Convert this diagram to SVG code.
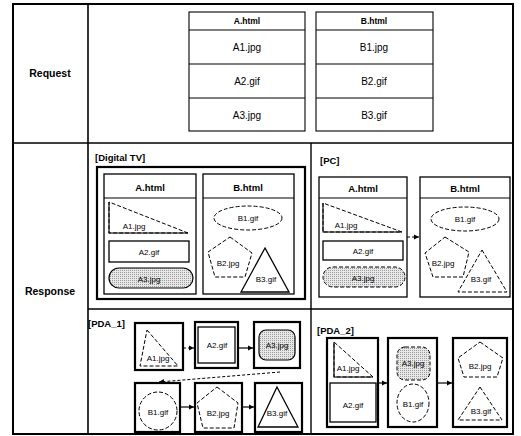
<svg xmlns="http://www.w3.org/2000/svg" width="521" height="436" viewBox="0 0 521 436">
<style>
text{font-family:"Liberation Sans",Arial,sans-serif;fill:#000;text-anchor:middle;dominant-baseline:central}
.t{font-size:10px}
.h{font-size:9.5px;font-weight:bold}
.s{font-size:8px}
.big{font-size:10.5px;font-weight:bold}
.lab{font-size:9.5px;font-weight:bold;text-anchor:start}
.frame{fill:none;stroke:#000;stroke-width:2}
.thin{fill:#fff;stroke:#000;stroke-width:1.1}
.box{fill:#fff;stroke:#000;stroke-width:1.3}
.thick{fill:#fff;stroke:#000;stroke-width:2.2}
.dash{fill:#fff;stroke:#000;stroke-width:1;stroke-dasharray:4 2}
.gray{fill:url(#dots);stroke:#000;stroke-width:1.2}
.grayd{fill:url(#dots);stroke:#000;stroke-width:1;stroke-dasharray:4 2}
.ar{fill:none;stroke:#000;stroke-width:1.2;marker-end:url(#ah)}
.ard{fill:none;stroke:#000;stroke-width:1;stroke-dasharray:3 2;marker-end:url(#ah)}
</style>
<defs>
<pattern id="dots" width="2" height="2" patternUnits="userSpaceOnUse">
<rect width="2" height="2" fill="#e8e8e8"/>
<rect width="1" height="1" fill="#9a9a9a"/>
</pattern>
<marker id="ah" markerWidth="6" markerHeight="6" refX="5" refY="3" orient="auto" markerUnits="userSpaceOnUse">
<path d="M0,0.5 L5,3 L0,5.5 Z" fill="#000"/>
</marker>
</defs>
<rect width="521" height="436" fill="#fff"/>

<g id="grid">
<rect x="13" y="4" width="500" height="430" class="frame"/>
<line x1="88" y1="4" x2="88" y2="434" stroke="#000" stroke-width="1.6"/>
<line x1="13" y1="143" x2="513" y2="143" stroke="#000" stroke-width="1.6"/>
<line x1="88" y1="309" x2="513" y2="309" stroke="#000" stroke-width="1.4"/>
<line x1="311" y1="143" x2="311" y2="434" stroke="#000" stroke-width="1.4"/>
<text x="50" y="73" class="big">Request</text>
<text x="50" y="291" class="big">Response</text>
</g>

<g id="req-a">
<rect x="189" y="12" width="116" height="119" class="thin"/>
<line x1="189" y1="30" x2="305" y2="30" stroke="#000" stroke-width="1.1"/>
<line x1="189" y1="64" x2="305" y2="64" stroke="#000" stroke-width="1.1"/>
<line x1="189" y1="98" x2="305" y2="98" stroke="#000" stroke-width="1.1"/>
<text x="247" y="21" class="h" style="font-size:8.5px">A.html</text>
<text x="247" y="47" class="t">A1.jpg</text>
<text x="247" y="81" class="t">A2.gif</text>
<text x="247" y="115" class="t">A3.jpg</text>
</g>
<g id="req-b">
<rect x="316" y="12" width="117" height="119" class="thin"/>
<line x1="316" y1="30" x2="433" y2="30" stroke="#000" stroke-width="1.1"/>
<line x1="316" y1="64" x2="433" y2="64" stroke="#000" stroke-width="1.1"/>
<line x1="316" y1="98" x2="433" y2="98" stroke="#000" stroke-width="1.1"/>
<text x="374" y="21" class="h" style="font-size:8.5px">B.html</text>
<text x="374" y="47" class="t">B1.jpg</text>
<text x="374" y="81" class="t">B2.gif</text>
<text x="374" y="115" class="t">B3.gif</text>
</g>

<g id="tv">
<text x="95" y="157" class="lab">[Digital TV]</text>
<rect x="97" y="167" width="208" height="132" fill="none" stroke="#000" stroke-width="2.2"/>
<g id="tv-a">
<rect x="104" y="174" width="92" height="120" class="box"/>
<line x1="104" y1="198" x2="196" y2="198" stroke="#000" stroke-width="1.1"/>
<text x="150" y="187" class="h">A.html</text>
<path d="M188,233 L109,202 L109,233 Z" class="dash"/>
<path d="M109,202 L109,233 L188,233" fill="none" stroke="#000" stroke-width="1.1"/>
<text x="134" y="226" class="s">A1.jpg</text>
<rect x="109" y="241" width="80" height="21" class="box"/>
<text x="149" y="252" class="s">A2.gif</text>
<rect x="109" y="268" width="84" height="20" rx="10" class="gray"/>
<text x="149" y="279" class="s">A3.jpg</text>
</g>
<g id="tv-b">
<rect x="203" y="174" width="91" height="120" class="box"/>
<line x1="203" y1="198" x2="294" y2="198" stroke="#000" stroke-width="1.1"/>
<text x="248" y="187" class="h">B.html</text>
<ellipse cx="248" cy="218" rx="34" ry="12" class="dash"/>
<text x="248" y="218" class="s">B1.gif</text>
<path d="M230,237 L252,253 L245,277 L215,277 L208,252 Z" class="dash"/>
<text x="228" y="263" class="s">B2.jpg</text>
<path d="M265,248 L289,292 L241,292 Z" class="box"/>
<text x="266" y="279" class="s">B3.gif</text>
</g>
</g>

<g id="pc">
<text x="320" y="160" class="lab">[PC]</text>
<g id="pc-a">
<rect x="319" y="177" width="88" height="120" class="box"/>
<line x1="319" y1="198" x2="407" y2="198" stroke="#000" stroke-width="1.1"/>
<text x="363" y="188" class="h">A.html</text>
<path d="M402,232 L323,203 L323,232 Z" class="dash"/>
<path d="M323,203 L323,232 L402,232" fill="none" stroke="#000" stroke-width="1.1"/>
<text x="346" y="225" class="s">A1.jpg</text>
<rect x="323" y="241" width="80" height="19" class="box"/>
<text x="363" y="251" class="s">A2.gif</text>
<rect x="323" y="267" width="82" height="20" rx="10" class="grayd"/>
<text x="363" y="278" class="s">A3.jpg</text>
</g>
<g id="pc-b">
<rect x="420" y="177" width="90" height="120" class="box"/>
<line x1="420" y1="198" x2="510" y2="198" stroke="#000" stroke-width="1.1"/>
<text x="465" y="188" class="h">B.html</text>
<ellipse cx="465" cy="219" rx="34" ry="12" class="dash"/>
<text x="465" y="219" class="s">B1.gif</text>
<path d="M445,237 L469,252 L463,277 L433,277 L425,253 Z" class="dash"/>
<text x="443" y="263" class="s">B2.jpg</text>
<path d="M482,250 L507,292 L458,292 Z" class="dash"/>
<text x="481" y="279" class="s">B3.gif</text>
</g>
</g>

<g id="pda1">
<text x="88" y="323" class="lab">[PDA_1]</text>
<g id="p1-a1">
<rect x="135" y="323" width="48" height="47" class="thick"/>
<path d="M147,330 L178,366 L140,366 Z" class="dash"/>
<text x="158" y="358" class="s">A1.jpg</text>
</g>
<g id="p1-a2">
<rect x="195" y="322" width="43" height="46" class="thick"/>
<rect x="198" y="327" width="37" height="36" class="box"/>
<text x="217" y="345" class="s">A2.gif</text>
</g>
<g id="p1-a3">
<rect x="254" y="322" width="46" height="46" class="thick"/>
<rect x="259" y="330" width="36" height="30" rx="7" class="gray"/>
<text x="277" y="345" class="s">A3.jpg</text>
</g>
<g id="p1-b1">
<rect x="135" y="383" width="45" height="49" class="thick"/>
<ellipse cx="158" cy="411" rx="19" ry="19" class="dash"/>
<text x="158" y="412" class="s">B1.gif</text>
</g>
<g id="p1-b2">
<rect x="195" y="383" width="47" height="49" class="thick"/>
<path d="M217,387 L238,403 L234,428 L203,428 L197,403 Z" class="dash"/>
<text x="218" y="413" class="s">B2.jpg</text>
</g>
<g id="p1-b3">
<rect x="255" y="383" width="47" height="49" class="thick"/>
<path d="M277,387 L298,427 L258,427 Z" class="box"/>
<text x="277" y="413" class="s">B3.gif</text>
</g>
</g>

<g id="pda2">
<text x="317" y="330" class="lab">[PDA_2]</text>
<g id="p2-1">
<rect x="327" y="338" width="51" height="89" class="thick"/>
<path d="M373,377 L334,342 L334,377 Z" class="dash"/>
<path d="M334,342 L334,377 L373,377" fill="none" stroke="#000" stroke-width="1.1"/>
<text x="348" y="368" class="s">A1.jpg</text>
<rect x="330" y="383" width="46" height="39" class="box"/>
<text x="353" y="405" class="s">A2.gif</text>
</g>
<g id="p2-2">
<rect x="388" y="338" width="49" height="89" class="thick"/>
<rect x="397" y="347" width="33" height="33" rx="8" class="grayd"/>
<text x="413" y="363" class="s">A3.jpg</text>
<ellipse cx="413" cy="403" rx="16" ry="19" class="dash"/>
<text x="413" y="404" class="s">B1.gif</text>
</g>
<g id="p2-3">
<rect x="453" y="338" width="54" height="89" class="thick"/>
<path d="M480,342 L503,358 L497,377 L464,377 L458,358 Z" class="dash"/>
<text x="480" y="366" class="s">B2.jpg</text>
<path d="M480,387 L502,420 L458,420 Z" class="dash"/>
<text x="481" y="411" class="s">B3.gif</text>
</g>
</g>

<g id="connectors">
<line x1="407" y1="237" x2="419" y2="237" class="ard"/>
<line x1="183" y1="348" x2="194" y2="348" class="ard"/>
<line x1="238" y1="348" x2="253" y2="348" class="ar"/>
<path d="M280,372 L159,382" class="ard"/>
<line x1="180" y1="407" x2="194" y2="407" class="ar"/>
<line x1="242" y1="407" x2="254" y2="407" class="ar"/>
<line x1="378" y1="383" x2="387" y2="383" class="ar"/>
<line x1="437" y1="383" x2="452" y2="383" class="ar"/>
</g>
</svg>
